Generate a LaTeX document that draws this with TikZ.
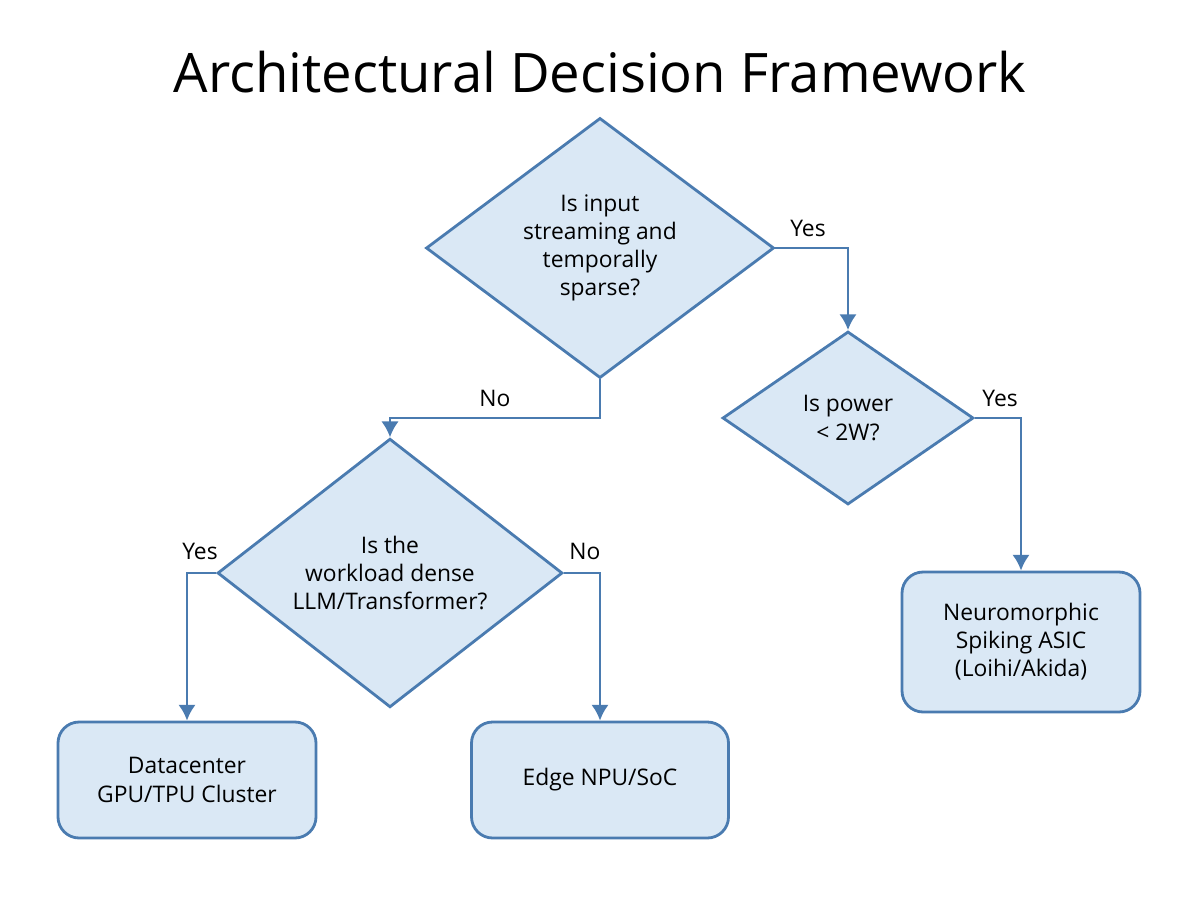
\documentclass[tikz,border=0pt]{standalone}
\usepackage{fontspec}
\setmainfont{Open Sans}
\usetikzlibrary{shapes.geometric, arrows.meta}
\definecolor{lineblue}{HTML}{4A7BB0}
\definecolor{fillblue}{HTML}{DAE8F5}
\tikzset{
  decision/.style={diamond, draw=lineblue, fill=fillblue, line width=1.6pt, inner sep=0pt, align=center, font=\fontsize{13}{16}\selectfont},
  outcome/.style={rectangle, rounded corners=12pt, draw=lineblue, fill=fillblue, line width=1.6pt, align=center, font=\fontsize{13}{16}\selectfont},
  link/.style={draw=lineblue, line width=1.6pt, -{Latex[length=9pt,width=10pt]}},
  lbl/.style={font=\fontsize{13}{16}\selectfont}
}
\begin{document}
\begin{tikzpicture}[x=0.02cm, y=-0.02cm]
\useasboundingbox (0,0) rectangle (1200,896);

\node[font=\fontsize{31}{36}\selectfont] (title) at (600,72) {Architectural Decision Framework};

\node[decision, minimum width=348*0.02cm, minimum height=220*0.02cm] (stream) at (600,248) {Is input\\streaming and\\temporally\\sparse?};
\node[decision, minimum width=251*0.02cm, minimum height=173*0.02cm] (power) at (848,418) {Is power\\< 2W?};
\node[decision, minimum width=345*0.02cm, minimum height=220*0.02cm] (dense) at (390,573) {Is the\\workload dense\\LLM/Transformer?};

\node[outcome, minimum width=238*0.02cm, minimum height=140*0.02cm] (neuro) at (1021,642) {Neuromorphic\\Spiking ASIC\\(Loihi/Akida)};
\node[outcome, minimum width=258*0.02cm, minimum height=116*0.02cm] (gpu) at (187,780) {Datacenter\\GPU/TPU Cluster};
\node[outcome, minimum width=257*0.02cm, minimum height=116*0.02cm] (npu) at (600,780) {Edge NPU/SoC};

\draw[link] (stream.east) -| (power.north);
\draw[link] (power.east) -| (neuro.north);
\draw[link] (stream.south) |- (500,418) -| (dense.north);
\draw[link] (dense.west) -| (gpu.north);
\draw[link] (dense.east) -| (npu.north);

\node[lbl] (y1) at (808,228) {Yes};
\node[lbl] (y2) at (1000,398) {Yes};
\node[lbl] (n1) at (495,398) {No};
\node[lbl] (y3) at (200,551) {Yes};
\node[lbl] (n2) at (585,551) {No};
\end{tikzpicture}
\end{document}
